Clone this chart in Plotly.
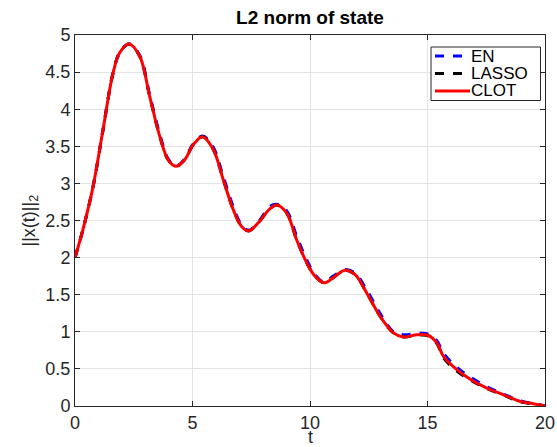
import plotly.graph_objects as go

t = [0, 0.34, 0.77, 1.19, 1.62, 1.9, 2.3, 2.76, 3.18, 3.61, 3.96, 4.29, 4.67, 5.03,
     5.43, 5.88, 6.31, 6.73, 7.09, 7.4, 7.8, 8.3, 8.58, 9.01, 9.43, 9.86, 10.21,
     10.61, 10.99, 11.49, 11.92, 12.42, 12.98, 13.55, 13.98, 14.55, 15.04, 15.4,
     15.68, 16.25, 16.82, 17.53, 18.24, 18.95, 19.5, 20]

clot = [2.0, 2.38, 2.96, 3.72, 4.49, 4.76, 4.88, 4.71, 4.17, 3.63, 3.32, 3.23, 3.32, 3.52,
        3.63, 3.46, 3.05, 2.65, 2.42, 2.36, 2.47, 2.66, 2.71, 2.60, 2.24, 1.93, 1.75,
        1.66, 1.73, 1.83, 1.77, 1.52, 1.21, 0.985, 0.93, 0.96, 0.95, 0.85,
        0.67, 0.49, 0.36, 0.24, 0.15, 0.06, 0.03, 0.0]

en = [2.0, 2.38, 2.96, 3.72, 4.49, 4.76, 4.88, 4.72, 4.19, 3.66, 3.33, 3.23, 3.33, 3.53,
      3.64, 3.49, 3.09, 2.69, 2.44, 2.37, 2.48, 2.69, 2.72, 2.63, 2.29, 1.97, 1.77,
      1.67, 1.75, 1.84, 1.79, 1.56, 1.25, 1.0, 0.96, 0.98, 0.97, 0.88,
      0.71, 0.52, 0.39, 0.26, 0.16, 0.07, 0.03, 0.0]

lasso = [2.0, 2.38, 2.96, 3.72, 4.49, 4.76, 4.88, 4.71, 4.17, 3.63, 3.32, 3.23, 3.32, 3.52,
         3.63, 3.46, 3.05, 2.65, 2.42, 2.36, 2.47, 2.66, 2.71, 2.60, 2.24, 1.93, 1.75,
         1.66, 1.73, 1.83, 1.77, 1.52, 1.21, 0.985, 0.93, 0.955, 0.945, 0.84,
         0.65, 0.47, 0.35, 0.235, 0.145, 0.055, 0.03, 0.0]

series_names = ["EN", "LASSO", "CLOT"]
series_values = [en, lasso, clot]
series_colors = ["#0000ff", "#000000", "#ff0000"]
series_dashes = ["dash", "dash", "solid"]

x_ticks = [0, 5, 10, 15, 20]
y_ticks = [0, 0.5, 1, 1.5, 2, 2.5, 3, 3.5, 4, 4.5, 5]
y_tick_labels = ["0", "0.5", "1", "1.5", "2", "2.5", "3", "3.5", "4", "4.5", "5"]

FONT = "Liberation Sans, Arial, Helvetica, sans-serif"
AX = "#262626"
W, H = 557, 447
ML, MR, MT, MB = 75, 12, 35, 41
PW, PH = W - ML - MR, H - MT - MB


def px_x(px):
    return (px - ML) / PW


def px_y(py):
    return (H - MB - py) / PH


fig = go.Figure()
for name, vals, col, dash in zip(series_names, series_values, series_colors, series_dashes):
    fig.add_trace(go.Scatter(x=t, y=vals, name=name, mode="lines", line_shape="spline",
                             line=dict(color=col, width=3, dash=dash),
                             showlegend=False))

axis_common = dict(
    showgrid=True, gridcolor="#e3e3e3", gridwidth=1,
    showline=True, linecolor=AX, linewidth=1, mirror="ticks",
    ticks="inside", ticklen=5, tickcolor=AX, tickwidth=1,
    zeroline=False, automargin=False,
    tickfont=dict(family=FONT, size=18, color=AX),
)

# Legend drawn as a box with sample lines and labels
shapes = [dict(type="rect", xref="paper", yref="paper",
               x0=px_x(431), x1=px_x(540.5), y0=px_y(100.5), y1=px_y(47),
               line=dict(color=AX, width=1), fillcolor="white", layer="above")]
annotations = []
row_y = [56, 73.5, 91]
for name, col, dash, ry in zip(series_names, series_colors, series_dashes, row_y):
    shapes.append(dict(type="line", xref="paper", yref="paper",
                       x0=px_x(435), x1=px_x(470), y0=px_y(ry), y1=px_y(ry),
                       line=dict(color=col, width=3, dash=dash), layer="above"))
    annotations.append(dict(text=name, xref="paper", yref="paper",
                            x=px_x(470), y=px_y(ry), xanchor="left", yanchor="middle",
                            showarrow=False, borderpad=0,
                            font=dict(family=FONT, size=17, color="#000000")))

annotations.append(dict(text="t", xref="paper", yref="paper", x=0.5, y=px_y(437),
                        xanchor="center", yanchor="middle", showarrow=False,
                        font=dict(family=FONT, size=18, color=AX)))
annotations.append(dict(text="||x(t)||<sub>2</sub>", xref="paper", yref="paper",
                        x=px_x(30), y=0.5, xanchor="center", yanchor="middle",
                        textangle=-90, showarrow=False,
                        font=dict(family=FONT, size=18, color=AX)))

fig.update_layout(
    width=W, height=H,
    margin=dict(l=ML, r=MR, t=MT, b=MB),
    paper_bgcolor="white", plot_bgcolor="white",
    title=dict(text="<b>L2 norm of state</b>", x=0.5, xanchor="center",
               xref="paper", y=1 - 17 / H, yanchor="middle",
               font=dict(family=FONT, size=19, color="#000000")),
    xaxis=dict(range=[0, 20], tickvals=x_ticks, ticktext=[str(v) for v in x_ticks],
               **axis_common),
    yaxis=dict(range=[0, 5], tickvals=y_ticks, ticktext=y_tick_labels,
               **axis_common),
    shapes=shapes,
    annotations=annotations,
    showlegend=False,
)

fig.write_html("out.html",
               config={"displayModeBar": False},
               post_script="document.body.style.margin='0px';document.body.style.overflow='hidden';")
